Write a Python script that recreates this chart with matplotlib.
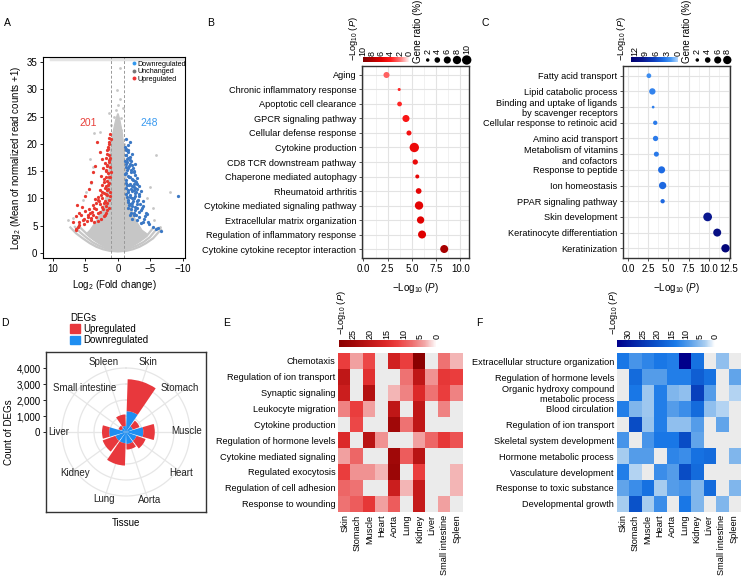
import numpy as np
import matplotlib
matplotlib.use("Agg")
import matplotlib.pyplot as plt
from matplotlib.colors import LinearSegmentedColormap, Normalize
from matplotlib.cm import ScalarMappable
from matplotlib.lines import Line2D
from matplotlib.patches import Patch
from matplotlib.ticker import MultipleLocator

plt.rcParams["font.family"] = ["Liberation Sans", "DejaVu Sans"]
plt.rcParams["mathtext.fontset"] = "custom"
plt.rcParams["mathtext.rm"] = "Liberation Sans"
plt.rcParams["mathtext.it"] = "Liberation Sans:italic"
plt.rcParams["font.size"] = 7

nan = np.nan

# ---------------- A: DEG scatter ----------------
up_x = [1.2, 1.4, 1.3, 1.5, 1.6, 1.4, 1.8, 1.3, 2.0, 1.6, 1.2, 2.3, 1.9, 1.5, 2.6, 1.2, 2.1, 1.7, 1.3, 2.4,
        1.9, 1.5, 2.8, 1.2, 2.2, 1.7, 3.0, 2.5, 1.4, 2.0, 3.3, 2.7, 1.8, 3.6, 2.3, 1.6, 4.0, 3.0, 4.6, 2.0,
        3.3, 5.2, 4.2, 5.9, 3.6, 6.1, 5.2, 6.4, 4.8, 2.6, 3.2, 3.8, 4.2, 5.0, 4.4, 5.5, 6.5, 2.8, 2.5, 3.5,
        6.3, 5.9, 6.9, 6.5, 4.35,
        1.1, 1.3, 1.5, 1.7, 1.2, 1.4, 1.6, 1.9, 1.1, 1.3, 1.8, 2.2, 1.5, 1.7, 2.0, 2.4, 1.2, 1.9, 2.6, 3.1,
        1.6, 2.2, 2.9, 3.5, 3.9, 1.4, 2.5, 3.3, 4.4, 5.0, 1.8, 2.7, 3.8, 4.6, 5.6, 2.2, 3.1, 4.1, 5.3, 6.0]
up_y = [21.8, 21.0, 20.3, 19.5, 18.8, 18.0, 17.5, 17.0, 16.5, 16.2, 15.8, 15.5, 15.0, 14.6, 14.2, 14.0, 13.6, 13.2, 12.8, 12.5,
        12.2, 11.8, 11.5, 11.2, 11.0, 10.6, 10.3, 10.0, 9.8, 9.5, 9.2, 8.9, 8.6, 8.3, 8.0, 7.8, 7.6, 7.3, 7.0, 7.0,
        6.6, 6.3, 6.0, 5.6, 5.6, 4.8, 5.4, 4.5, 5.8, 6.2, 20.4, 14.8, 13.0, 10.5, 11.8, 8.5, 6.8, 18.5, 17.2, 16.0,
        8.8, 7.3, 5.7, 4.3, 7.3,
        20.8, 19.9, 19.0, 18.2, 17.4, 16.6, 15.9, 15.3, 14.9, 13.9, 13.9, 13.1, 12.4, 11.5, 12.0, 11.2, 10.4, 10.9, 10.6, 9.8,
        9.2, 9.1, 9.6, 9.9, 8.8, 8.2, 8.4, 8.0, 8.1, 7.7, 7.4, 7.6, 7.0, 6.6, 6.9, 6.8, 5.9, 6.4, 6.0, 5.2]
down_x = [-1.2, -1.5, -1.3, -1.8, -1.4, -2.0, -1.2, -1.7, -2.3, -1.4, -2.0, -1.2, -2.6, -1.7, -2.2, -1.3, -2.8, -1.9, -1.4, -2.4,
          -3.0, -1.6, -2.1, -2.7, -1.3, -3.2, -1.9, -2.4, -1.5, -2.9, -2.1, -3.4, -1.7, -2.6, -3.0, -2.0, -3.5, -2.4, -2.8, -1.8,
          -3.3, -2.2, -4.0, -4.6, -3.6, -5.4, -6.2, -6.6, -2.5, -3.0, -2.2, -1.6, -1.9, -3.5, -3.9, -4.3, -3.8, -1.2, -2.6, -3.2,
          -9.2, -4.4, -3.9, -2.7,
          -1.1, -1.3, -1.6, -1.2, -1.5, -1.9, -1.1, -1.4, -1.8, -2.2, -1.2, -1.6, -2.0, -2.5, -1.1, -1.5, -1.9, -2.3, -2.7, -1.3,
          -1.7, -2.1, -2.5, -3.0, -1.2, -1.6, -2.0, -2.4, -2.8, -3.3, -1.4, -1.8, -2.2, -2.6, -3.1, -1.5, -1.9, -2.3, -2.9, -3.7,
          -1.6, -2.1, -2.6, -3.2, -4.2, -2.0, -2.5, -3.0, -4.8, -5.8]
down_y = [19.0, 18.5, 18.0, 17.6, 17.2, 16.8, 16.4, 16.0, 15.6, 15.3, 14.9, 14.6, 14.3, 14.0, 13.6, 13.3, 13.0, 12.7, 12.4, 12.1,
          11.8, 11.6, 11.3, 11.0, 10.8, 10.5, 10.3, 10.0, 9.7, 9.5, 9.2, 9.0, 8.8, 8.5, 8.2, 8.0, 7.8, 7.4, 7.0, 7.0,
          6.6, 6.3, 6.2, 5.6, 5.5, 4.8, 4.6, 4.1, 14.8, 13.8, 18.2, 19.8, 20.3, 11.4, 9.6, 7.3, 8.6, 20.8, 16.3, 12.3,
          10.4, 7.2, 5.7, 11.9,
          19.4, 18.8, 18.9, 17.9, 17.5, 17.0, 16.9, 16.6, 16.4, 16.1, 15.8, 15.5, 15.2, 15.0, 14.4, 14.2, 13.9, 13.4, 13.2, 12.9,
          12.5, 12.3, 12.7, 12.6, 11.9, 11.2, 11.7, 11.5, 11.2, 10.9, 10.3, 10.6, 10.1, 10.4, 9.8, 9.3, 9.0, 9.5, 8.9, 8.3,
          8.3, 8.6, 7.9, 7.6, 6.7, 7.3, 6.9, 6.0, 5.3, 4.4]
gray_x = [-0.26, 0.15, -0.26, 0.0, 0.35, -0.77, 0.66, -0.5, 1.3, 3.6, 2.8, 4.35, 3.85, 4.1, 4.9, 5.4, 6.9, 7.7,
          -5.9, -4.9, -4.4, -5.4, -5.6, -6.4, -7.95, 1.1, 0.5, -0.4, 0.9, -1.0]
gray_y = [33.9, 29.9, 28.3, 27.1, 26.2, 26.5, 25.0, 24.7, 25.6, 21.9, 22.2, 17.3, 15.8, 12.8, 11.2, 9.7, 6.4, 6.0,
          17.9, 12.1, 10.0, 8.2, 6.0, 4.8, 11.2, 23.5, 23.0, 22.6, 20.5, 20.0]
# outline of the dense unchanged cloud
core_x = [0.05, 0.35, 0.8, 1.2, 1.4, 1.7, 2.2, 3.2, 4.3, 4.9, 3.8, 2.8, 1.8, 0.9, 0.0, -0.9, -1.8, -2.8, -3.8, -4.5,
          -3.7, -2.7, -1.9, -1.4, -1.2, -1.0, -0.7, -0.3, -0.05]
core_y = [25.5, 24.4, 21.9, 18.3, 14.6, 11.0, 8.5, 6.1, 4.2, 3.5, 2.5, 1.8, 1.3, 1.0, 0.9, 1.0, 1.3, 1.8, 2.6, 3.5,
          4.2, 6.1, 8.5, 11.0, 14.6, 18.3, 21.9, 24.4, 25.5]
# low-count arcs at the bottom of the cloud
arc1_x = [7.3, 6.4, 5.4, 4.3, 3.3, 2.3, 1.3, 0.0, -1.3, -2.3, -3.3, -4.3, -5.4, -6.6]
arc1_y = [4.7, 3.6, 2.7, 1.8, 1.15, 0.7, 0.42, 0.3, 0.42, 0.7, 1.15, 1.8, 2.7, 4.3]
arc2_x = [6.6, 5.8, 4.9, 3.9, 2.9, 1.9, 0.9, 0.0, -0.9, -1.9, -2.9, -3.9, -4.9, -6.0]
arc2_y = [4.8, 3.8, 2.9, 2.0, 1.35, 0.9, 0.6, 0.5, 0.6, 0.9, 1.35, 2.0, 2.9, 4.5]
arc3_x = [6.0, 5.2, 4.4, 3.5, 2.6, 1.7, 0.8, 0.0, -0.8, -1.7, -2.6, -3.5, -4.4, -5.4]
arc3_y = [4.9, 4.0, 3.1, 2.3, 1.6, 1.1, 0.8, 0.7, 0.8, 1.1, 1.6, 2.3, 3.1, 4.6]
top_band_x = [10.3, -11.0]
top_band_y = [35.5, 35.5]
n_up, n_down = 201, 248

# ---------------- B / C: enrichment dot plots ----------------
b_terms = ["Aging", "Chronic inflammatory response", "Apoptotic cell clearance", "GPCR signaling pathway",
           "Cellular defense response", "Cytokine production", "CD8 TCR downstream pathway",
           "Chaperone mediated autophagy", "Rheumatoid arthritis", "Cytokine mediated signaling pathway",
           "Extracellular matrix organization", "Regulation of inflammatory response",
           "Cytokine cytokine receptor interaction"]
b_logp = [2.38, 3.69, 3.73, 4.39, 4.7, 5.25, 5.35, 5.56, 5.7, 5.74, 5.9, 6.05, 8.34]
b_ratio = [4.6, 1.7, 3.1, 6.0, 3.4, 10.0, 3.7, 2.4, 4.2, 8.1, 6.4, 7.5, 7.5]

c_terms = ["Fatty acid transport", "Lipid catabolic process",
           "Binding and uptake of ligands\nby scavenger receptors", "Cellular response to retinoic acid",
           "Amino acid transport", "Metabolism of vitamins\nand cofactors", "Response to peptide",
           "Ion homeostasis", "PPAR signaling pathway", "Skin development", "Keratinocyte differentiation",
           "Keratinization"]
c_logp = [2.57, 3.0, 3.1, 3.36, 3.4, 3.5, 4.15, 4.28, 4.28, 9.88, 11.07, 12.1]
c_ratio = [3.1, 5.0, 1.5, 2.7, 3.7, 3.4, 6.0, 6.4, 2.7, 8.8, 7.5, 8.1]

# ---------------- D: DEG counts per tissue ----------------
tissues = ["Skin", "Stomach", "Muscle", "Heart", "Aorta", "Lung", "Kidney", "Liver", "Small intestine", "Spleen"]
deg_down = [1300, 450, 1080, 700, 750, 700, 700, 1050, 300, 380]
deg_up = [2000, 450, 720, 600, 350, 1400, 850, 450, 200, 720]

# ---------------- E / F: enrichment heatmaps (-log10 P, nan = not enriched) ----------------
e_terms = ["Chemotaxis", "Regulation of ion transport", "Synaptic signaling", "Leukocyte migration",
           "Cytokine production", "Regulation of hormone levels", "Cytokine mediated signaling",
           "Regulated exocytosis", "Regulation of cell adhesion", "Response to wounding"]
e_vals = [
    [12, 4, 11, nan, 17, 12, 29, nan, 7, 3],
    [20, nan, 14, nan, nan, 7, 20, 5, 13, 12],
    [18, nan, 22, nan, 3, 6, 15, 7, 12, 6],
    [6, 12, 4, nan, 20, nan, 20, nan, 6, nan],
    [nan, 11, nan, nan, 25, 7, 20, nan, nan, nan],
    [15, nan, 21, 5, nan, nan, 4, 8, 13, 10],
    [4, 8, nan, nan, 25, 9, 21, nan, nan, nan],
    [12, 5, 5, 3, 26, nan, 12, nan, nan, 3],
    [8, 7, nan, nan, 18, 3, 19, nan, nan, 3],
    [7, 9, 13, 4, 9, nan, 19, nan, 4, nan],
]
f_terms = ["Extracellular structure organization", "Regulation of hormone levels",
           "Organic hydroxy compound\nmetabolic process", "Blood circulation", "Regulation of ion transport",
           "Skeletal system development", "Hormone metabolic process", "Vasculature development",
           "Response to toxic substance", "Developmental growth"]
f_vals = [
    [14, 10, 12, 14, 13, 34, 15, nan, 5, nan],
    [nan, 16, 9, 9, 13, 13, 18, 15, nan, 8],
    [nan, 14, 4, 13, 6, 5, 23, 9, nan, 3],
    [13, 6, 4, 13, 9, 11, 16, 5, 3, nan],
    [nan, 21, 4.5, 13, 5, 5, 9, nan, 8, nan],
    [10, nan, 10, 14, 14, 21, 8, nan, nan, nan],
    [3.5, 9, 9, nan, 12, 11, 15, 16, nan, 6],
    [13, 3, nan, 11, 9, 21, 16, nan, nan, nan],
    [8, 11, 15, 3.5, 9, 10, 6, 16, nan, 6],
    [3.5, 20, 3.5, 11, nan, 14, 6, nan, 6, nan],
]

# ---------------- colours ----------------
RED = "#e8372f"
BLUE = "#3b78c4"
GREY = "#c6c6c6"
cmap_b = LinearSegmentedColormap.from_list("b", [(0, "#fff3f3"), (0.2, "#ff7070"), (0.4, "#ff1a1a"),
                                                 (0.6, "#e00000"), (0.8, "#b00000"), (1, "#800000")])
cmap_c = LinearSegmentedColormap.from_list("c", [(0, "#b3d7ff"), (0.15, "#4a9af5"), (0.3, "#1f6fe6"),
                                                 (0.5, "#1040c0"), (0.75, "#0a1890"), (1, "#000070")])
cmap_e = LinearSegmentedColormap.from_list("e", [(0, "#ffffff"), (0.12, "#f2a8a8"), (0.25, "#ee6e6e"),
                                                 (0.4, "#ec4040"), (0.52, "#dc2828"), (0.7, "#bd1616"),
                                                 (0.86, "#a00808"), (1, "#8b0000")])
cmap_f = LinearSegmentedColormap.from_list("f", [(0, "#ffffff"), (0.1, "#a8cdf0"), (0.25, "#5aa0ea"),
                                                 (0.4, "#1a7ae8"), (0.6, "#0a50c8"), (1, "#00008b")])

W, H = 741, 576
fig = plt.figure(figsize=(W / 100, H / 100), dpi=100)


def rect(x0, y0, x1, y1):
    return [x0 / W, 1 - y1 / H, (x1 - x0) / W, (y1 - y0) / H]


def dot_size(r):
    return np.clip(4.9 * np.asarray(r, float) - 3.5, 2, None)


PLOG = "\u2212Log$_{10}$ ($P$)"

# ---------- A ----------
ax = fig.add_axes(rect(43, 57, 185, 258))
ax.plot(top_band_x, top_band_y, color="#e4e4e4", lw=2.5, zorder=1)
for ax_, ay_ in [(arc1_x, arc1_y), (arc2_x, arc2_y), (arc3_x, arc3_y)]:
    ax.plot(ax_, ay_, color=GREY, lw=1.6, zorder=1)
ax.fill(core_x, core_y, color=GREY, lw=0.8, ec=GREY, zorder=1)
ax.scatter(gray_x, gray_y, s=4, color=GREY, lw=0, zorder=2)
ax.scatter(up_x, up_y, s=5.5, color=RED, lw=0, zorder=3)
ax.scatter(down_x, down_y, s=5.5, color=BLUE, lw=0, zorder=3)
ax.axvline(1, color="#999999", ls=(0, (3, 2)), lw=0.7)
ax.axvline(-1, color="#999999", ls=(0, (3, 2)), lw=0.7)
ax.text(4.5, 23.8, str(n_up), color="#e8403a", ha="center", va="center", fontsize=7.5)
ax.text(-4.8, 23.8, str(n_down), color="#3a9af0", ha="center", va="center", fontsize=7.5)
ax.set_xlim(11.5, -10.3)
ax.set_ylim(-0.9, 35.9)
ax.set_xticks([10, 5, 0, -5, -10])
ax.set_yticks(range(0, 36, 5))
ax.tick_params(length=2.5, width=0.6, labelsize=7, pad=1.5)
for s in ax.spines.values():
    s.set_linewidth(0.8)
ax.set_xlabel("Log$_2$ (Fold change)", fontsize=7, labelpad=3)
ax.set_ylabel("Log$_2$ (Mean of normalized read counts +1)", fontsize=7, labelpad=3)
hd = [Line2D([], [], ls="", marker="o", ms=2.8, mec="none", mfc="#3399ee", label="Downregulated"),
      Line2D([], [], ls="", marker="o", ms=2.8, mec="none", mfc="#777777", label="Unchanged"),
      Line2D([], [], ls="", marker="o", ms=2.8, mec="none", mfc="#ee3333", label="Upregulated")]
ax.legend(handles=hd, loc="upper left", bbox_to_anchor=(0.62, 0.985), frameon=False, fontsize=5.2,
          handlelength=0.6, handletextpad=0.2, labelspacing=0.05, borderpad=0.1, borderaxespad=0)


# ---------- B / C ----------
def dot_panel(box, terms, logp, ratio, cmap, vmax, xlim, xticks):
    a = fig.add_axes(rect(*box))
    n = len(terms)
    y = np.arange(n)
    a.set_axisbelow(True)
    a.scatter(logp, y, s=dot_size(ratio), c=logp, cmap=cmap, norm=Normalize(0, vmax), lw=0, zorder=3,
              clip_on=False)
    a.set_xlim(*xlim)
    a.set_ylim(n - 1 + 0.62, -0.62)
    a.set_yticks(y, terms)
    a.set_xticks(xticks, [f"{t:.1f}" for t in xticks])
    a.xaxis.set_minor_locator(MultipleLocator(1.25))
    a.grid(True, which="major", color="#e3e3e3", lw=0.8)
    a.grid(True, which="minor", axis="x", color="#ececec", lw=0.5)
    a.tick_params(which="minor", length=0)
    a.tick_params(axis="y", length=2.5, width=0.6, pad=1.5, labelsize=6.6, color="#333333")
    a.tick_params(axis="x", length=2.5, width=0.6, pad=2, labelsize=7, color="#333333")
    for s in a.spines.values():
        s.set_linewidth(1.0)
        s.set_color("#333333")
    a.set_xlabel(PLOG, fontsize=7, labelpad=5)
    return a


dot_panel((362, 66, 469, 258), b_terms, b_logp, b_ratio, cmap_b, 10, (-0.15, 10.9),
          [0, 2.5, 5, 7.5, 10])
dot_panel((623, 66, 729.5, 258), c_terms, c_logp, c_ratio, cmap_c, 13, (-0.65, 12.6),
          [0, 2.5, 5, 7.5, 10, 12.5])


def hbar(box, cmap, vmax, ticks, lab_size=6.5):
    cax = fig.add_axes(rect(*box))
    cb = fig.colorbar(ScalarMappable(Normalize(0, vmax), cmap), cax=cax, orientation="horizontal")
    cb.outline.set_visible(False)
    cax.invert_xaxis()
    cax.xaxis.set_ticks_position("top")
    cb.set_ticks(ticks)
    cax.tick_params(length=0, pad=1, labelsize=lab_size, labelrotation=90)
    return cb


hbar((363, 57, 409, 62), cmap_b, 10, [10, 8, 6, 4, 2, 0])
hbar((631, 57, 678, 62), cmap_c, 13, [12, 9, 6, 3, 0])
hbar((339.3, 340, 436.7, 347.3), cmap_e, 29.2, [25, 20, 15, 10, 5, 0])
hbar((616.7, 340, 715, 347.3), cmap_f, 34, [30, 25, 20, 15, 10, 5, 0])

# ---------- D ----------
axd = fig.add_axes(rect(46, 352, 206, 512))
axd.set_xlim(-5000, 5000)
axd.set_ylim(-5000, 5000)
axd.set_xticks([])
axd.set_yticks([0, 1000, 2000, 3000, 4000], ["0", "1,000", "2,000", "3,000", "4,000"])
axd.tick_params(axis="y", length=2.5, width=0.6, pad=1.5, labelsize=7)
for s in axd.spines.values():
    s.set_linewidth(1.0)
    s.set_color("#333333")
axd.set_ylabel("Count of DEGs", fontsize=7, labelpad=2)
axd.set_xlabel("Tissue", fontsize=7, labelpad=4)

axp = fig.add_axes(rect(46, 352, 206, 512), projection="polar")
axp.set_theta_zero_location("N")
axp.set_theta_direction(-1)
axp.set_ylim(0, 5000)
axp.set_axis_off()
nt = len(tissues)
theta = (np.arange(nt) + 0.5) * 2 * np.pi / nt
ring = np.linspace(0, 2 * np.pi, 361)
for r in [1000, 2000, 3000, 4000]:
    axp.plot(ring, np.full_like(ring, r), color="#e6e6e6", lw=0.9, zorder=0)
for t in theta:
    axp.plot([t, t], [0, 4500], color="#e6e6e6", lw=0.9, zorder=0)
wd = 0.9 * 2 * np.pi / nt
axp.bar(theta, deg_down, width=wd, color="#1f8ef1", lw=0, zorder=2)
axp.bar(theta, deg_up, width=wd, bottom=deg_down, color="#e8383d", lw=0, zorder=2)
lab_r = [4590, 4350, 3810, 4290, 4490, 4410, 4090, 4190, 3760, 4590]
lab_t = [17.7, 50.8, 89, 126.7, 161, 198, 231, 270, 317, 342.5]
for name, r, t in zip(tissues, lab_r, lab_t):
    axp.text(np.deg2rad(t), r, name, ha="center", va="center", fontsize=7, color="#222222")

fig.legend(handles=[Patch(color="#e8383d", label="Upregulated"), Patch(color="#1f8ef1", label="Downregulated")],
           title="DEGs", loc="upper left", bbox_to_anchor=(70 / W, 1 - 313 / H), frameon=False, fontsize=7,
           title_fontsize=7, handlelength=1.0, handleheight=1.0, handletextpad=0.4, labelspacing=0.12,
           alignment="left", borderaxespad=0, borderpad=0)


# ---------- E / F ----------
def heat(box, data, rows, cols, cmap, vmax):
    a = fig.add_axes(rect(*box))
    cm = cmap.copy()
    cm.set_bad("#ebebeb")
    a.imshow(np.ma.masked_invalid(np.array(data, float)), cmap=cm, norm=Normalize(0, vmax), aspect="auto",
             interpolation="nearest")
    a.set_xticks(range(len(cols)), cols, rotation=90)
    a.set_yticks(range(len(rows)), rows)
    a.tick_params(length=0, pad=2, labelsize=6.6)
    for s in a.spines.values():
        s.set_visible(False)
    return a


heat((338.3, 352.7, 463.3, 511.7), e_vals, e_terms, tissues, cmap_e, 29.2)
heat((616.7, 353.3, 740, 511.7), f_vals, f_terms, tissues, cmap_f, 34)

# ---------- overlay: legends and panel letters ----------
ov = fig.add_axes([0, 0, 1, 1])
ov.set_xlim(0, W)
ov.set_ylim(H, 0)
ov.axis("off")
for x, y, L in [(7, 23, "A"), (211, 23, "B"), (485, 23, "C"), (5, 323, "D"), (227, 323, "E"), (479, 323, "F")]:
    ov.text(x, y, L, fontsize=7.5, ha="center", va="center")
for x, yb in [(353, 61), (621, 61), (341, 335), (614, 335)]:
    ov.text(x, yb, PLOG, rotation=90, ha="center", va="bottom", fontsize=6.7)
for x in [418.3, 686.7]:
    ov.text(x, 63, "Gene ratio (%)", rotation=90, ha="center", va="bottom", fontsize=7)
leg_b = [2, 4, 6, 8, 10]
leg_c = [2, 4, 6, 8]
for xs, vals in [([427.7, 437.3, 447.3, 457, 466.7], leg_b), ([697.3, 707.7, 717.7, 727.3], leg_c)]:
    ov.scatter(xs, [60] * len(xs), s=dot_size(vals), color="black", lw=0)
    for x, v in zip(xs, vals):
        ov.text(x, 54, str(v), rotation=90, ha="center", va="bottom", fontsize=6.5)

fig.savefig("out.png", dpi=100)
